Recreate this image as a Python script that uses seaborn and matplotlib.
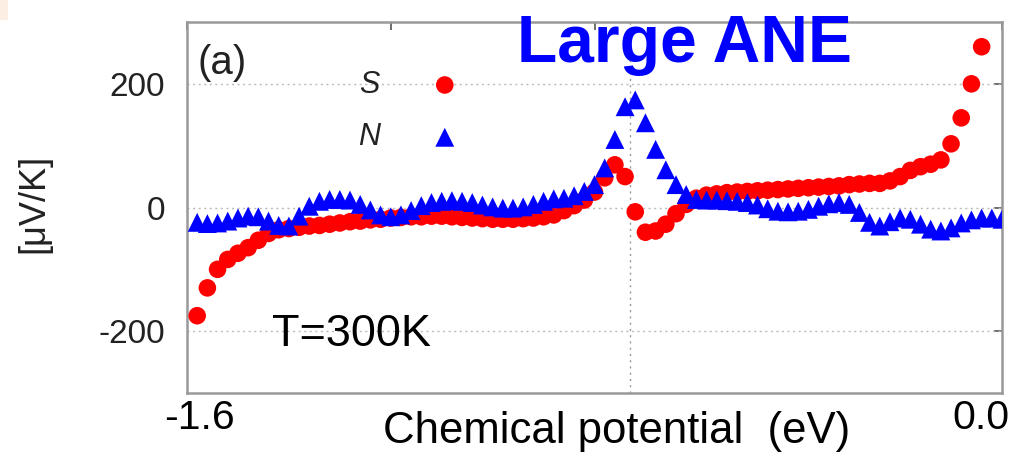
import numpy as np
import pandas as pd
import matplotlib
matplotlib.use("Agg")
import matplotlib.pyplot as plt
import matplotlib.transforms as mtransforms
from matplotlib.patches import Rectangle
import seaborn as sns

# Chemical potential grid (eV), uniform 0.02 eV sampling
mu = np.round(-1.58 + 0.02 * np.arange(80), 2)

# Seebeck coefficient S [uV/K] (78 points, up to -0.04 eV)
seebeck = [
    -175, -130, -100, -84, -74, -65, -53, -42, -36, -34,
    -32, -30, -29, -27, -25, -23, -22, -20, -19, -17,
    -16, -15, -15, -14, -14, -15, -16, -17, -18, -19,
    -19, -19, -18, -17, -15, -12, -5, 3, 12, 25,
    48, 69, 50, -7, -40, -38, -27, -10, 5, 15,
    20, 22, 24, 25, 26, 27, 28, 29, 30, 31,
    32, 33, 34, 35, 37, 38, 39, 39, 43, 50,
    60, 66, 70, 77, 103, 145, 200, 260,
]

# Anomalous Nernst coefficient N [uV/K] (80 points, up to 0.0 eV)
nernst = [
    -24, -26, -25, -22, -17, -14, -15, -22, -29, -30,
    -14, 2, 10, 13, 13, 12, 5, -4, -12, -15,
    -12, -5, 3, 8, 10, 11, 10, 8, 4, 1,
    -1, -1, 1, 5, 10, 14, 15, 19, 26, 37,
    64, 110, 163, 174, 137, 94, 61, 37, 21, 13,
    12, 12, 11, 10, 8, 4, -2, -6, -7, -6,
    -3, 2, 6, 8, 5, -8, -24, -30, -23, -17,
    -19, -27, -35, -38, -33, -25, -20, -17, -17, -19,
]

x_ticks = [-1.6, -1.2, -0.8, -0.4, 0.0]
x_tick_labels = ["-1.6", "", "", "", "0.0"]
y_ticks = [-200, 0, 200]
y_tick_labels = ["-200", "0", "200"]
fermi_level = -0.73

df_s = pd.DataFrame({"mu": mu[:len(seebeck)], "value": seebeck})
df_n = pd.DataFrame({"mu": mu[:len(nernst)], "value": nernst})

sns.set_theme(style="white")
plt.rcParams["font.family"] = ["Liberation Sans", "DejaVu Sans"]
plt.rcParams["axes.unicode_minus"] = False

W, H, DPI = 1019, 457, 100
fig = plt.figure(figsize=(W / DPI, H / DPI), dpi=DPI)
ax = fig.add_axes([187 / W, 1 - 393 / H, (1002 - 187) / W, (393 - 22) / H])

# reference lines
for yv in y_ticks:
    ax.axhline(yv, color="#bbbbbb", lw=1.0, ls=(0, (1.5, 2.5)), zorder=1)
ax.axvline(fermi_level, color="#999999", lw=1.0, ls=(0, (1.5, 3)), zorder=1)

sns.scatterplot(data=df_s, x="mu", y="value", ax=ax, color="#ff0000",
                marker="o", s=160, edgecolor="none", linewidth=0,
                label="S", zorder=3)
sns.scatterplot(data=df_n, x="mu", y="value", ax=ax, color="#0000ff",
                marker="^", s=185, edgecolor="none", linewidth=0,
                label="N", zorder=4)

ax.set_xlim(-1.6, 0.0)
ax.set_ylim(-300, 300)

ax.set_xticks(x_ticks)
ax.set_xticklabels(x_tick_labels, fontsize=29.5, color="black")
ax.set_yticks(y_ticks)
ax.set_yticklabels(y_tick_labels, fontsize=24, color="#222222")

ax.tick_params(axis="both", direction="in", length=6, width=1.2,
               color="#555555", top=True, right=True)
ax.tick_params(axis="y", pad=16)
ax.tick_params(axis="x", pad=4)

# nudge the two end labels inwards
shifts = {"-1.6": 12, "0.0": -21}
for lab in ax.get_xticklabels():
    dx = shifts.get(lab.get_text(), 0)
    if dx:
        lab.set_transform(lab.get_transform() +
                          mtransforms.ScaledTranslation(dx / DPI, 0, fig.dpi_scale_trans))

for sp in ax.spines.values():
    sp.set_color("#999999")
    sp.set_linewidth(1.8)

ax.set_xlabel("Chemical potential  (eV)", fontsize=31.5, color="black")
ax.xaxis.set_label_coords((617 - 187) / 815, (393 - 411) / 371)
ax.xaxis.label.set_verticalalignment("top")

ax.set_ylabel("[\u03bcV/K]", fontsize=26, color="#222222")
ax.yaxis.set_label_coords((34 - 187) / 815, (393 - 203) / 371)
ax.yaxis.label.set_verticalalignment("center")

leg = ax.legend(loc="upper left", bbox_to_anchor=((358 - 187) / 815, (393 - 70) / 371),
                frameon=False, markerfirst=False, handlelength=1.0,
                handletextpad=1.62, labelspacing=0.73, borderpad=0, borderaxespad=0,
                prop={"size": 22, "style": "italic"})
for t in leg.get_texts():
    t.set_color("#222222")

ax.text((197 - 187) / 815, (393 - 74) / 371, "(a)", transform=ax.transAxes,
        fontsize=29, color="#222222", va="baseline", ha="left")
ax.text((272 - 187) / 815, (393 - 346) / 371, "T=300K", transform=ax.transAxes,
        fontsize=32.5, color="black", va="baseline", ha="left")

fig.text(517 / W, 1 - 62 / H, "Large ANE", fontsize=47.5, fontweight="bold",
         color="#0000ff", va="baseline", ha="left", zorder=10)

fig.patches.append(Rectangle((0, 1 - 20 / H), 8 / W, 20 / H, transform=fig.transFigure,
                             facecolor="#fdeee4", edgecolor="none", zorder=0))

fig.savefig("out.png", dpi=DPI)
